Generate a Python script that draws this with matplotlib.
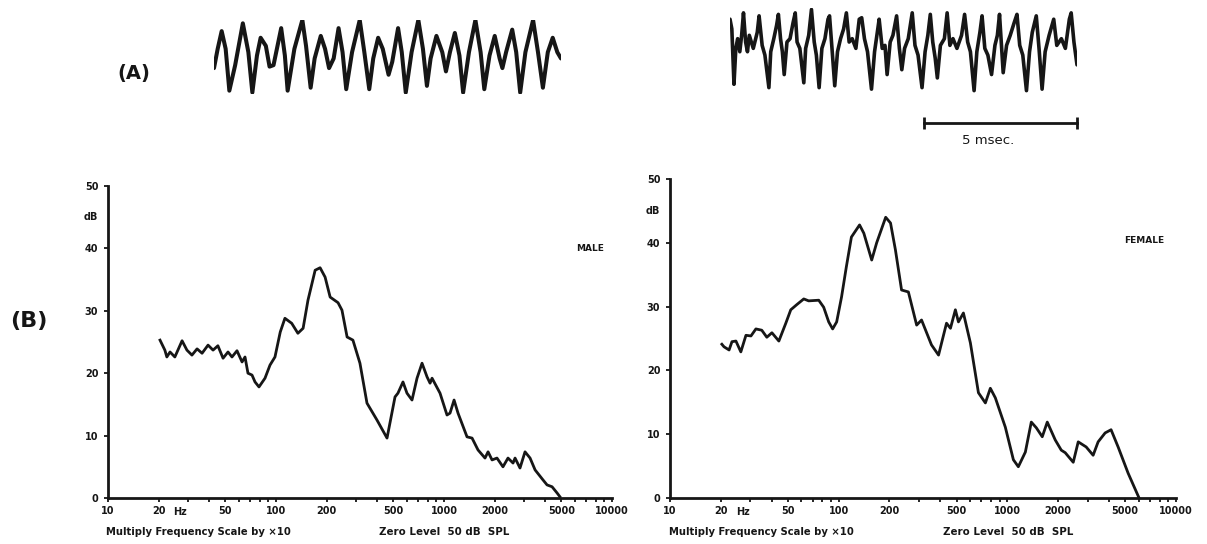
import matplotlib
matplotlib.use("Agg")
import numpy as np
import matplotlib.pyplot as plt
from matplotlib.ticker import LogLocator, NullFormatter

# ---- spectra (B): frequency in Hz (scale x10 as printed), level in dB ----
male_freq = [20.4, 21.8, 22.4, 23.4, 25.0, 27.6, 29.5, 31.6, 33.9, 36.3,
             39.4, 42.2, 45.1, 48.4, 51.8, 54.7, 58.6, 62.8, 65.4, 68.1,
             72.0, 75.0, 79.2, 86.0, 92.1, 98.6, 106, 113, 124, 135,
             145, 155, 171, 183, 196, 210, 234, 247, 265, 287,
             316, 348, 399, 458, 511, 532, 570, 602, 645, 691,
             740, 793, 826, 849, 947, 1042, 1086, 1148, 1212, 1371,
             1469, 1594, 1754, 1829, 1932, 2067, 2244, 2404, 2576, 2648,
             2834, 3036, 3253, 3485, 3883, 4105, 4398, 4712, 4898]
male_db = [25.3, 23.7, 22.6, 23.4, 22.6, 25.2, 23.7, 22.9, 23.9, 23.2,
           24.5, 23.7, 24.4, 22.4, 23.4, 22.6, 23.6, 21.8, 22.6, 20.0,
           19.7, 18.6, 17.8, 19.2, 21.3, 22.6, 26.6, 28.8, 28.0, 26.4,
           27.2, 31.7, 36.5, 36.9, 35.4, 32.2, 31.3, 30.1, 25.8, 25.3,
           21.6, 15.2, 12.5, 9.6, 16.2, 16.8, 18.6, 16.8, 15.7, 19.2,
           21.6, 19.4, 18.4, 19.2, 16.8, 13.3, 13.6, 15.7, 13.6, 9.8,
           9.6, 7.7, 6.4, 7.4, 6.1, 6.4, 5.0, 6.4, 5.6, 6.4,
           4.8, 7.4, 6.4, 4.5, 2.9, 2.1, 1.8, 0.8, 0.2]

female_freq = [20.3, 20.9, 22.4, 23.3, 24.6, 26.3, 28.2, 30.2, 32.3, 35.0,
               37.5, 40.2, 44.2, 48.6, 52.0, 56.4, 62.1, 66.4, 76.2, 81.5,
               87.3, 92.1, 97.3, 104, 111, 119, 133, 141, 157, 168,
               190, 203, 217, 236, 259, 290, 310, 355, 391, 436,
               460, 492, 513, 549, 604, 674, 741, 793, 849, 973,
               1086, 1162, 1279, 1387, 1486, 1611, 1725, 1923, 2088, 2204,
               2459, 2632, 2934, 3226, 3454, 3800, 4121, 4538, 5200, 6040]
female_db = [24.1, 23.7, 23.2, 24.5, 24.6, 22.9, 25.5, 25.4, 26.5, 26.3,
             25.2, 25.9, 24.6, 27.4, 29.5, 30.3, 31.2, 30.9, 31.0, 29.9,
             27.6, 26.5, 27.6, 31.5, 36.2, 40.9, 42.8, 41.5, 37.3, 40.0,
             44.0, 43.1, 38.9, 32.6, 32.3, 27.1, 27.9, 24.0, 22.4, 27.4,
             26.6, 29.5, 27.6, 29.0, 24.3, 16.5, 14.9, 17.2, 15.7, 11.1,
             6.0, 4.9, 7.2, 11.9, 11.0, 9.6, 11.9, 9.1, 7.5, 7.1,
             5.6, 8.8, 8.0, 6.7, 8.8, 10.2, 10.7, 8.0, 3.9, 0.0]

freq_ticks = [10, 20, 50, 100, 200, 500, 1000, 2000, 5000, 10000]
freq_labels = ["10", "20", "50", "100", "200", "500", "1000", "2000", "5000", "10000"]
db_ticks = [0, 10, 20, 30, 40, 50]
db_labels = ["0", "10", "20", "30", "40", "50"]

# ---- waveforms (A): time in ms, relative amplitude ----
male_wave_t = [0.00, 0.12, 0.25, 0.38, 0.50, 0.69, 0.94, 1.12, 1.25, 1.40,
               1.52, 1.69, 1.81, 1.94, 2.19, 2.31, 2.40, 2.62, 2.88, 3.00,
               3.15, 3.28, 3.48, 3.62, 3.75, 3.90, 4.06, 4.19, 4.31, 4.50,
               4.75, 4.90, 5.06, 5.19, 5.35, 5.50, 5.69, 5.81, 6.00, 6.12,
               6.25, 6.44, 6.66, 6.81, 6.94, 7.06, 7.25, 7.44, 7.56, 7.69,
               7.85, 8.00, 8.12, 8.31, 8.52, 8.69, 8.81, 8.98, 9.15, 9.31,
               9.40, 9.52, 9.72, 9.85, 9.98, 10.15, 10.40, 10.56, 10.72, 10.88,
               11.04, 11.19, 11.31]
male_wave_amp = [-0.30, 0.22, 0.70, 0.22, -0.91, -0.22, 0.91, 0.13, -0.96, 0.04,
                 0.52, 0.30, -0.26, -0.22, 0.78, 0.04, -0.91, 0.22, 1.00, 0.30,
                 -0.83, -0.04, 0.57, 0.22, -0.30, -0.04, 0.78, 0.13, -0.87, 0.13,
                 1.00, 0.13, -0.87, -0.04, 0.52, 0.22, -0.48, -0.13, 0.78, 0.13,
                 -0.96, 0.13, 1.00, 0.22, -0.78, -0.04, 0.57, 0.13, -0.39, 0.13,
                 0.65, 0.04, -0.96, 0.13, 1.00, 0.13, -0.87, 0.04, 0.57, -0.04,
                 -0.30, 0.13, 0.74, 0.13, -0.96, 0.13, 1.00, 0.13, -0.83, 0.13,
                 0.52, 0.13, -0.04]

female_wave_t = [0.00, 0.06, 0.13, 0.19, 0.25, 0.32, 0.38, 0.44, 0.51, 0.57,
                 0.63, 0.76, 0.89, 0.95, 1.05, 1.14, 1.27, 1.33, 1.43, 1.52,
                 1.58, 1.65, 1.71, 1.77, 1.86, 1.96, 2.06, 2.13, 2.19, 2.28,
                 2.41, 2.47, 2.57, 2.66, 2.75, 2.82, 2.91, 3.00, 3.10, 3.20,
                 3.25, 3.33, 3.42, 3.51, 3.61, 3.71, 3.80, 3.89, 3.99, 4.11,
                 4.22, 4.30, 4.39, 4.49, 4.62, 4.72, 4.81, 4.87, 4.97, 5.06,
                 5.13, 5.23, 5.32, 5.44, 5.53, 5.61, 5.70, 5.82, 5.95, 6.04,
                 6.14, 6.27, 6.37, 6.46, 6.54, 6.62, 6.70, 6.77, 6.87, 7.00,
                 7.09, 7.18, 7.28, 7.41, 7.56, 7.66, 7.76, 7.85, 7.97, 8.06,
                 8.16, 8.23, 8.32, 8.42, 8.54, 8.65, 8.73, 8.80, 8.87, 8.92,
                 9.03, 9.15, 9.28, 9.37, 9.46, 9.56, 9.68, 9.78, 9.87, 10.00,
                 10.09, 10.19, 10.29, 10.42, 10.57, 10.67, 10.82, 10.95, 11.08, 11.14,
                 11.23, 11.33]
female_wave_amp = [1.00, 0.74, -0.74, 0.22, 0.48, 0.13, 0.57, 1.17, 0.39, 0.13,
                   0.57, 0.22, 0.65, 1.09, 0.30, 0.04, -0.83, 0.13, 0.48, 0.83,
                   1.13, 0.48, 0.13, -0.48, 0.39, 0.48, 0.91, 1.17, 0.39, 0.22,
                   -0.70, 0.22, 0.57, 1.26, 0.39, 0.04, -0.83, 0.22, 0.48, 1.00,
                   1.09, 0.22, -0.78, 0.13, 0.48, 0.74, 1.17, 0.39, 0.48, 0.22,
                   1.00, 1.04, 0.48, 0.13, -0.87, 0.13, 0.65, 1.00, 0.22, 0.30,
                   -0.48, 0.39, 0.57, 1.09, 0.22, -0.35, 0.22, 0.48, 1.17, 0.30,
                   0.04, -0.83, 0.13, 0.57, 1.13, 0.39, -0.04, -0.57, 0.30, 0.48,
                   1.17, 0.30, 0.48, 0.22, 0.57, 1.13, 0.39, 0.13, -0.91, 0.13,
                   0.65, 1.09, 0.22, 0.04, -0.48, 0.30, 0.57, 1.13, 0.22, -0.43,
                   0.30, 0.57, 0.91, 1.13, 0.30, 0.04, -0.91, 0.13, 0.65, 1.09,
                   0.22, -0.87, 0.13, 0.57, 1.00, 0.30, 0.48, 0.22, 1.00, 1.17,
                   0.39, -0.22]
scale_bar_ms = 5

ink = "#161616"
W, H = 1207, 544
plt.rcParams["font.family"] = ["DejaVu Sans"]
plt.rcParams["font.weight"] = "bold"

fig = plt.figure(figsize=(W / 100, H / 100), dpi=100)
fig.patch.set_facecolor("white")


def px_axes(x0, y0, x1, y1):
    # rectangle given in pixel coords of the 1207x544 picture (y down)
    return fig.add_axes([x0 / W, 1 - y1 / H, (x1 - x0) / W, (y1 - y0) / H])


def spectrum(ax, f, db, name, name_xy):
    ax.plot(f, db, color=ink, lw=2.0, solid_joinstyle="round", clip_on=False)
    ax.set_xscale("log")
    ax.set_xlim(10, 10000)
    ax.set_ylim(0, 50)
    for s in ("top", "right"):
        ax.spines[s].set_visible(False)
    for s in ("left", "bottom"):
        ax.spines[s].set_linewidth(2.0)
        ax.spines[s].set_color(ink)
    ax.set_xticks(freq_ticks)
    ax.set_xticklabels(freq_labels)
    ax.xaxis.set_minor_locator(LogLocator(base=10, subs=np.arange(2, 10)))
    ax.xaxis.set_minor_formatter(NullFormatter())
    ax.set_yticks(db_ticks)
    ax.set_yticklabels(db_labels)
    ax.tick_params(axis="both", which="both", direction="out", length=3,
                   width=1.3, color=ink, labelcolor=ink, labelsize=7)
    ax.tick_params(axis="x", pad=3)
    ax.tick_params(axis="y", pad=4)
    ax.text(-0.034, 45, "dB", transform=ax.get_yaxis_transform(),
            ha="center", va="center", fontsize=7, color=ink)
    ax.annotate("Hz", xy=(27, 0), xycoords=("data", "axes fraction"),
                xytext=(0, -10), textcoords="offset points",
                ha="center", va="center", fontsize=7, color=ink)
    ax.text(name_xy[0], name_xy[1], name, transform=ax.transAxes,
            ha="center", va="center", fontsize=6.5, color=ink)
    ax.annotate("Multiply Frequency Scale by \u00d710", xy=(0.18, 0),
                xycoords="axes fraction", xytext=(0, -24.5),
                textcoords="offset points", ha="center", va="center",
                fontsize=7.2, color=ink)
    ax.annotate("Zero Level  50 dB  SPL", xy=(0.668, 0),
                xycoords="axes fraction", xytext=(0, -24.5),
                textcoords="offset points", ha="center", va="center",
                fontsize=7.4, color=ink)


ax_m = px_axes(108, 186, 612, 498)
spectrum(ax_m, male_freq, male_db, "MALE", (0.956, 0.80))
ax_f = px_axes(670, 179, 1176, 498)
spectrum(ax_f, female_freq, female_db, "FEMALE", (0.937, 0.806))

# waveforms
aw_m = px_axes(214, 20, 561, 94)
aw_m.plot(male_wave_t, male_wave_amp, color=ink, lw=2.9, solid_joinstyle="round",
          solid_capstyle="round")
aw_m.set_xlim(0, male_wave_t[-1])
aw_m.set_ylim(-1.0, 1.0)
aw_m.axis("off")

aw_f = px_axes(730, 8, 1077, 94)
aw_f.plot(female_wave_t, female_wave_amp, color=ink, lw=2.6, solid_joinstyle="round",
          solid_capstyle="round")
aw_f.set_xlim(0, female_wave_t[-1])
aw_f.set_ylim(-1.0, 1.30)
aw_f.axis("off")
t_end = female_wave_t[-1]
aw_f.plot([t_end - scale_bar_ms, t_end], [-1.78, -1.78], color=ink, lw=2.0,
          marker="|", ms=9, mew=2.0, clip_on=False)
aw_f.text(t_end - scale_bar_ms / 2 - 0.4, -2.25, "%d msec." % scale_bar_ms,
          ha="center", va="center", fontsize=9.5, fontweight="normal",
          color=ink, clip_on=False)

fig.text(134 / W, 1 - 73 / H, "(A)", ha="center", va="center", fontsize=14, color=ink)
fig.text(29 / W, 1 - 321 / H, "(B)", ha="center", va="center", fontsize=16, color=ink)

fig.savefig("out.png", dpi=100, facecolor="white")
